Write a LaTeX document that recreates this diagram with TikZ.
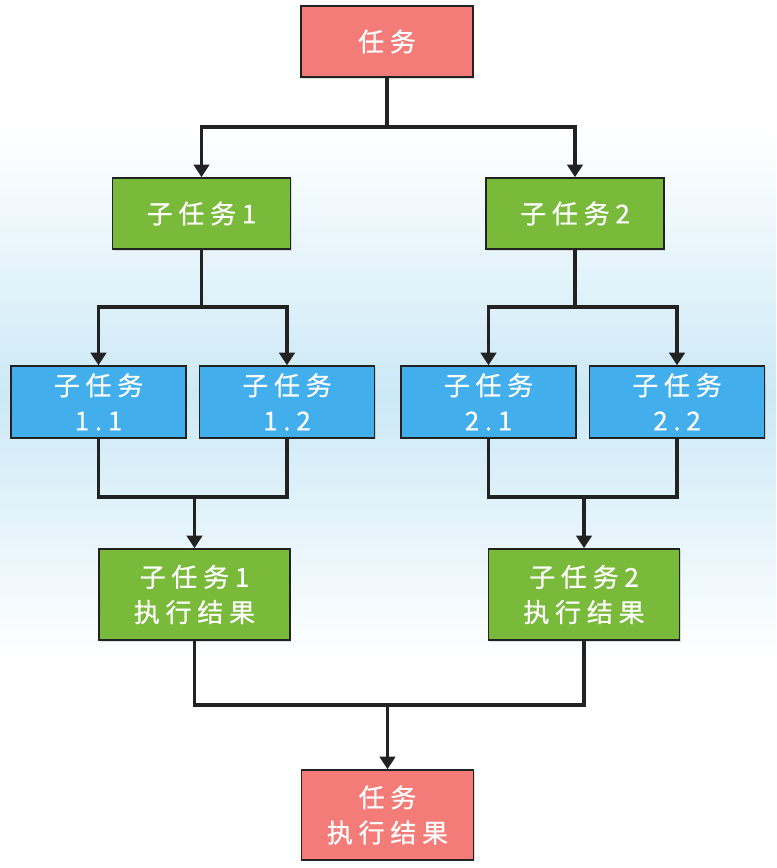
\documentclass[tikz,border=0pt]{standalone}
\usepackage{fontspec}
\newfontfamily\cjk[LetterSpace=22, FakeBold=0.6]{Noto Sans CJK SC}
\usetikzlibrary{arrows.meta, calc, positioning, shadows}
\definecolor{taskred}{RGB}{243,124,121}
\definecolor{subgreen}{RGB}{122,186,58}
\definecolor{leafblue}{RGB}{66,174,236}
\definecolor{glowblue}{RGB}{204,233,246}
\definecolor{linegray}{RGB}{34,34,34}

\begin{document}
\begin{tikzpicture}[x=0.025cm, y=-0.025cm,
		box/.style={draw=linegray, line width=1pt, text=white, align=center,
			font=\cjk\fontsize{18.5pt}{25pt}\selectfont,
			drop shadow={opacity=0.25, shadow xshift=1pt, shadow yshift=-1pt}},
		taskbox/.style={box, fill=taskred, minimum width=4.3cm},
		subbox/.style={box, fill=subgreen, minimum width=4.45cm, minimum height=1.78cm},
		leafbox/.style={box, fill=leafblue, minimum width=4.37cm, minimum height=1.8cm},
		resbox/.style={box, fill=subgreen, minimum width=4.77cm, minimum height=2.28cm},
		conn/.style={draw=linegray, line width=2.4pt},
		arr/.style={conn, -{Triangle[length=9pt, width=11pt]}}]
	\useasboundingbox (0,0) rectangle (776,868);
	%--- background glow ---
	\shade[top color=white, bottom color=white, middle color=glowblue]
	(0,130) rectangle (776,660);
	%--- task and its split ---
	\node[taskbox, minimum height=1.78cm] (task) at (387,41.5) {任务};
	\node[subbox] (sub1) at (201.5,213.5) {子任务1};
	\node[subbox] (sub2) at (575,213.5) {子任务2};
	\coordinate (split0) at (387,127);
	\draw[conn] (task) -- (split0);
	\draw[arr] (split0) -| (sub1);
	\draw[arr] (split0) -| (sub2);
	%--- leaves ---
	\node[leafbox] (leaf11) at (98.5,402) {子任务\\1.1};
	\node[leafbox] (leaf12) at (287,402) {子任务\\1.2};
	\node[leafbox] (leaf21) at (488.5,402) {子任务\\2.1};
	\node[leafbox] (leaf22) at (677,402) {子任务\\2.2};
	\coordinate (split1) at (201.5,307);
	\coordinate (split2) at (575,307);
	\draw[conn] (sub1) -- (split1);
	\draw[arr] (split1) -| (leaf11);
	\draw[arr] (split1) -| (leaf12);
	\draw[conn] (sub2) -- (split2);
	\draw[arr] (split2) -| (leaf21);
	\draw[arr] (split2) -| (leaf22);
	%--- partial results ---
	\node[resbox] (res1) at (194.5,594.5) {子任务1\\执行结果};
	\node[resbox] (res2) at (584,594.5) {子任务2\\执行结果};
	\coordinate (join1) at (194.5,497);
	\coordinate (join2) at (584,497);
	\draw[conn] (leaf11) |- (join1);
	\draw[conn] (leaf12) |- (join1);
	\draw[arr] (join1) -- (res1);
	\draw[conn] (leaf21) |- (join2);
	\draw[conn] (leaf22) |- (join2);
	\draw[arr] (join2) -- (res2);
	%--- final result ---
	\node[taskbox, minimum height=2.25cm] (final) at (387.5,815) {任务\\执行结果};
	\coordinate (join0) at (387.5,705);
	\draw[conn] (res1) |- (join0);
	\draw[conn] (res2) |- (join0);
	\draw[arr] (join0) -- (final);
\end{tikzpicture}
\end{document}
